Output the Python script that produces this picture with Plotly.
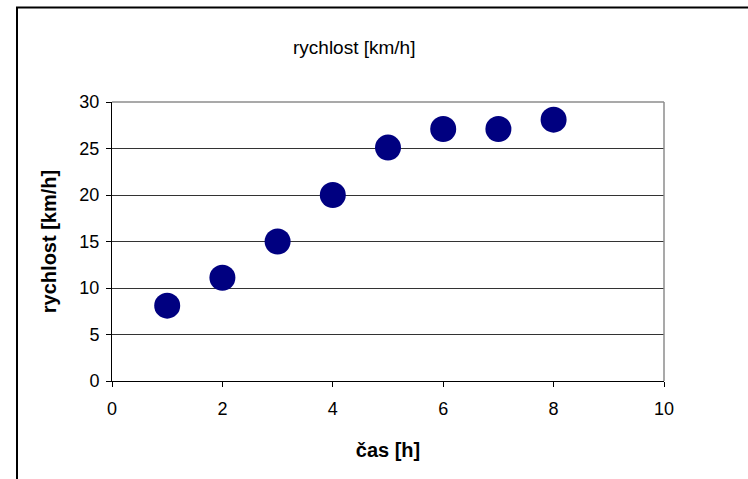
import plotly.graph_objects as go

cas = [1, 2, 3, 4, 5, 6, 7, 8]
rychlost = [8.1, 11.1, 15.0, 20.0, 25.1, 27.1, 27.1, 28.1]
x_ticks = [0, 2, 4, 6, 8, 10]
y_ticks = [0, 5, 10, 15, 20, 25, 30]

W, H = 748, 479
L, R, T, B = 112, 84, 102, 98
pw, ph = W - L - R, H - T - B

def px(xp):
    return (xp - L) / pw

def py(yp):
    return (H - B - yp) / ph

fig = go.Figure()
fig.add_trace(go.Scatter(
    x=cas, y=rychlost, mode="markers",
    marker=dict(size=26, color="#000080", line=dict(width=0)),
    showlegend=False, cliponaxis=False,
))

font = "Liberation Sans, Arial, sans-serif"
fig.update_layout(
    width=W, height=H,
    margin=dict(l=L, r=R, t=T, b=B),
    paper_bgcolor="white", plot_bgcolor="white",
    font=dict(family=font, size=18, color="black"),
    xaxis=dict(
        range=[0, 10], tickvals=x_ticks, ticktext=[str(v) for v in x_ticks],
        showgrid=False, zeroline=False, showline=True, linecolor="black", linewidth=1,
        ticks="outside", ticklen=5, tickcolor="black", tickfont=dict(size=18),
        ticklabelstandoff=6,
        title=dict(text="<b>čas [h]</b>", font=dict(size=20), standoff=25),
    ),
    yaxis=dict(
        range=[0, 30], tickvals=y_ticks, ticktext=[str(v) for v in y_ticks],
        showgrid=True, gridcolor="#333333", gridwidth=1,
        zeroline=False, showline=True, linecolor="black", linewidth=1,
        ticks="outside", ticklen=5, tickcolor="black", tickfont=dict(size=18),
        ticklabelstandoff=3,
        title=dict(text="<b>rychlost [km/h]</b>", font=dict(size=20), standoff=17),
    ),
    annotations=[dict(
        text="rychlost [km/h]", xref="paper", yref="paper",
        x=px(354), y=py(48), xanchor="center", yanchor="middle",
        showarrow=False, font=dict(size=19, family=font),
    )],
    shapes=[
        # grey top and right borders of plot area
        dict(type="line", xref="paper", yref="paper", x0=0, x1=1, y0=1, y1=1,
             line=dict(color="#8c8c8c", width=1.5), layer="above"),
        dict(type="line", xref="paper", yref="paper", x0=1, x1=1, y0=0, y1=1,
             line=dict(color="#8c8c8c", width=1.5), layer="above"),
        # outer chart frame (left and top visible)
        dict(type="line", xref="paper", yref="paper", x0=px(17), x1=px(17), y0=py(7), y1=py(490),
             line=dict(color="black", width=2)),
        dict(type="line", xref="paper", yref="paper", x0=px(16), x1=px(748), y0=py(7.5), y1=py(7.5),
             line=dict(color="black", width=2)),
    ],
)

fig.write_html(
    "out.html",
    config={"displayModeBar": False},
    post_script="document.body.style.margin='0';document.body.style.padding='0';",
)
